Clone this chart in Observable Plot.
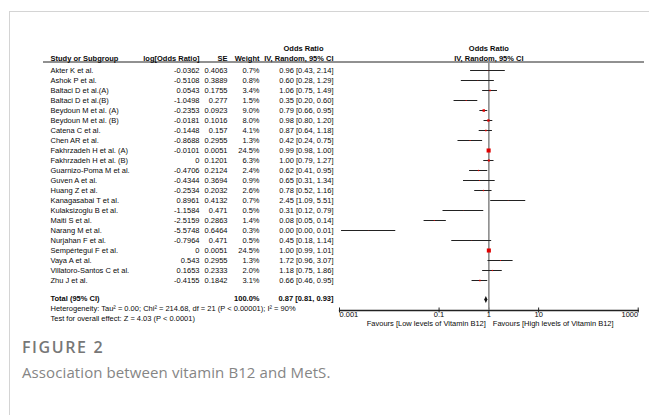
<!DOCTYPE html>
<html><head><meta charset="utf-8">
<script src="https://cdn.jsdelivr.net/npm/d3@7"></script>
<script src="https://cdn.jsdelivr.net/npm/@observablehq/plot@0.6"></script>
<style>
body{margin:0;background:#fff;}
#page{position:relative;width:649px;height:415px;overflow:hidden;background:#fff;}
#border{position:absolute;left:9px;top:11px;width:700px;height:500px;border-left:1px solid #d4d4d4;border-top:1px solid #d4d4d4;}
#chart{position:absolute;left:0;top:0;width:649px;height:332px;}
#chart svg{position:absolute;left:0;top:0;}
#fig{position:absolute;left:22px;top:337px;font-family:"Open Sans",sans-serif;font-weight:600;font-size:16px;line-height:20px;color:#777;letter-spacing:1.6px;}
#cap{position:absolute;left:22px;top:362px;font-family:"Open Sans",sans-serif;font-size:15px;line-height:20px;color:#858585;letter-spacing:0.1px;}
</style></head>
<body>
<div id="page">
  <div id="border"></div>
  <div id="chart"></div>
  <div id="fig">FIGURE 2</div>
  <div id="cap">Association between vitamin B12 and MetS.</div>
</div>
<script>
const studies = ["Akter K et al.","Ashok P et al.","Baltaci D et al.(A)","Baltaci D et al.(B)","Beydoun M et al. (A)","Beydoun M et al. (B)","Catena C et al.","Chen AR et al.","Fakhrzadeh H et al. (A)","Fakhrzadeh H et al. (B)","Guarnizo-Poma M et al.","Guven A et al.","Huang Z et al.","Kanagasabai T et al.","Kulaksizoglu B et al.","Maiti S et al.","Narang M et al.","Nurjahan F et al.","Sempértegui F et al.","Vaya A et al.","Villatoro-Santos C et al.","Zhu J et al."];
const logOR = [-0.0362,-0.5108,0.0543,-1.0498,-0.2353,-0.0181,-0.1448,-0.8688,-0.0101,0,-0.4706,-0.4344,-0.2534,0.8961,-1.1584,-2.5159,-5.5748,-0.7964,0,0.543,0.1653,-0.4155];
const seVals = [0.4063,0.3889,0.1755,0.277,0.0923,0.1016,0.157,0.2955,0.0051,0.1201,0.2124,0.3694,0.2032,0.4132,0.471,0.2863,0.6464,0.471,0.0051,0.2955,0.2333,0.1842];
const weight = [0.7,0.8,3.4,1.5,9.0,8.0,4.1,1.3,24.5,6.3,2.4,0.9,2.6,0.7,0.5,1.4,0.3,0.5,24.5,1.3,2.0,3.1];
const oddsRatio = [0.96,0.60,1.06,0.35,0.79,0.98,0.87,0.42,0.99,1.00,0.62,0.65,0.78,2.45,0.31,0.08,0.0038,0.45,1.00,1.72,1.18,0.66];
const ciLow = [0.43,0.28,0.75,0.20,0.66,0.80,0.64,0.24,0.98,0.79,0.41,0.31,0.52,1.09,0.12,0.05,0.0011,0.18,0.99,0.96,0.75,0.46];
const ciHigh = [2.14,1.29,1.49,0.60,0.95,1.20,1.18,0.75,1.00,1.27,0.95,1.34,1.16,5.51,0.79,0.14,0.0135,1.14,1.01,3.07,1.86,0.95];
const totalLabel = "Total (95% CI)";
const totalWeight = 100.0;
const totalOR = 0.87, totalLow = 0.81, totalHigh = 0.93;
const hetText = "Heterogeneity: Tau² = 0.00; Chi² = 214.68, df = 21 (P < 0.00001); I² = 90%";
const testText = "Test for overall effect: Z = 4.03 (P < 0.0001)";
const tickValues = [0.001, 0.1, 1, 10, 1000];
const tickLabels = ["0.001", "0.1", "1", "10", "1000"];
const favoursLeft = "Favours [Low levels of Vitamin B12]";
const favoursRight = "Favours [High levels of Vitamin B12]";
const headers = {study:"Study or Subgroup", logor:"log[Odds Ratio]", se:"SE", weight:"Weight", or1:"Odds Ratio", or2:"IV, Random, 95% CI"};

const rows = studies.map((s, i) => ({study: s, logor: logOR[i], se: seVals[i], w: weight[i], or: oddsRatio[i], lo: ciLow[i], hi: ciHigh[i]}));
const fmtCI = (o, l, h) => `${o.toFixed(2)} [${l.toFixed(2)}, ${h.toFixed(2)}]`;

const H = 332;
const domainY = ["h1", "h2", ...studies, "gap", totalLabel, "het", "test"];
const yOpt = {type: "point", domain: domainY, range: [49.1, 321.3], padding: 0, axis: null};
const font = {fontFamily: "'Liberation Sans', Arial, sans-serif", fontSize: "7.5px", background: "transparent", overflow: "visible", color: "#000"};
const fs = 7.5, ink = "#0a0a0a";

// table columns (left edge of frame = 43)
const L = 43;
const col = {study: 50 - L, logor: 199 - L, se: 227 - L, weight: 259 - L, ci: 333 - L, ciHead: 303 - L};

const table = Plot.plot({
  width: 649, height: H, marginTop: 61.5, marginLeft: L, marginRight: 6, marginBottom: 22,
  x: {axis: null}, y: yOpt, style: font,
  marks: [
    Plot.frame({anchor: "top", stroke: "#222", strokeWidth: 1}),
    // headers
    Plot.text([headers.study], {y: () => "h2", text: d => d, frameAnchor: "left", dx: col.study, textAnchor: "start", fontWeight: "bold", dy: -2, fontSize: fs, fill: ink}),
    Plot.text([headers.logor], {y: () => "h2", text: d => d, frameAnchor: "left", dx: col.logor, textAnchor: "end", fontWeight: "bold", dy: -2, fontSize: fs, fill: ink}),
    Plot.text([headers.se], {y: () => "h2", text: d => d, frameAnchor: "left", dx: col.se, textAnchor: "end", fontWeight: "bold", dy: -2, fontSize: fs, fill: ink}),
    Plot.text([headers.weight], {y: () => "h2", text: d => d, frameAnchor: "left", dx: col.weight, textAnchor: "end", fontWeight: "bold", dy: -2, fontSize: fs, fill: ink}),
    Plot.text([headers.or1], {y: () => "h1", text: d => d, frameAnchor: "left", dx: col.ciHead, textAnchor: "middle", fontWeight: "bold", dy: -2, fontSize: fs, fill: ink}),
    Plot.text([headers.or2], {y: () => "h2", text: d => d, frameAnchor: "left", dx: col.ci, textAnchor: "end", fontWeight: "bold", dy: -2, fontSize: fs, fill: ink}),
    // rows
    Plot.text(rows, {y: "study", text: "study", frameAnchor: "left", dx: col.study, textAnchor: "start", fontSize: fs, fill: ink}),
    Plot.text(rows, {y: "study", text: d => String(d.logor), frameAnchor: "left", dx: col.logor, textAnchor: "end", fontSize: fs, fill: ink}),
    Plot.text(rows, {y: "study", text: d => String(d.se), frameAnchor: "left", dx: col.se, textAnchor: "end", fontSize: fs, fill: ink}),
    Plot.text(rows, {y: "study", text: d => d.w.toFixed(1) + "%", frameAnchor: "left", dx: col.weight, textAnchor: "end", fontSize: fs, fill: ink}),
    Plot.text(rows, {y: "study", text: d => fmtCI(d.or, d.lo, d.hi), frameAnchor: "left", dx: col.ci, textAnchor: "end", fontSize: fs, fill: ink}),
    // total
    Plot.text([totalLabel], {y: d => d, text: d => d, frameAnchor: "left", dx: col.study, textAnchor: "start", fontWeight: "bold", dy: -2, fontSize: fs, fill: ink}),
    Plot.text([totalWeight], {y: () => totalLabel, text: d => d.toFixed(1) + "%", frameAnchor: "left", dx: col.weight, textAnchor: "end", fontWeight: "bold", dy: -2, fontSize: fs, fill: ink}),
    Plot.text([fmtCI(totalOR, totalLow, totalHigh)], {y: () => totalLabel, text: d => d, frameAnchor: "left", dx: col.ci, textAnchor: "end", fontWeight: "bold", dy: -2, fontSize: fs, fill: ink}),
    Plot.text([hetText], {y: () => "het", text: d => d, frameAnchor: "left", dx: col.study, textAnchor: "start", dy: -1.5, fontSize: fs, fill: ink}),
    Plot.text([testText], {y: () => "test", text: d => d, frameAnchor: "left", dx: col.study, textAnchor: "start", dy: -2, fontSize: fs, fill: ink})
  ]
});

const diamond = {draw(ctx) { ctx.moveTo(0, -3.6); ctx.lineTo(1.6, 0); ctx.lineTo(0, 3.6); ctx.lineTo(-1.6, 0); ctx.closePath(); }};

const forest = Plot.plot({
  width: 649, height: H, marginTop: 61.5, marginLeft: 339, marginRight: 11.3, marginBottom: 22,
  x: {type: "log", domain: [0.001, 1000], label: null},
  y: yOpt,
  r: {type: "sqrt", domain: [0, 24.5], range: [0, 2.3]},
  style: font,
  marks: [
    Plot.frame({anchor: "bottom", stroke: "#222", strokeWidth: 1.3}),
    Plot.axisX({ticks: tickValues, tickSize: 5, dy: -2.5, tickFormat: () => "", label: null, stroke: "#222"}),
    Plot.ruleX([1], {stroke: "#8c8c8c", strokeWidth: 1.6}),
    Plot.text([headers.or1], {x: () => 1, y: () => "h1", text: d => d, fontWeight: "bold", dy: -2, fontSize: fs, fill: ink}),
    Plot.text([headers.or2], {x: () => 1, y: () => "h2", text: d => d, fontWeight: "bold", dy: -2, fontSize: fs, fill: ink}),
    Plot.ruleY(rows, {y: "study", x1: "lo", x2: "hi", stroke: "#222", strokeWidth: 1}),
    Plot.dot(rows, {x: "or", y: "study", r: "w", symbol: "square", fill: "#e00000", stroke: null}),
    Plot.dot([totalOR], {x: d => d, y: () => totalLabel, symbol: diamond, r: 3.5, fill: "#111", stroke: null, dy: -1}),
    Plot.text(tickValues.slice(0, 1), {x: d => d, text: d => tickLabels[tickValues.indexOf(d)], frameAnchor: "bottom", dy: 6.5, textAnchor: "start", fontSize: fs, fill: ink}),
    Plot.text(tickValues.slice(1, -1), {x: d => d, text: d => tickLabels[tickValues.indexOf(d)], frameAnchor: "bottom", dy: 6.5, textAnchor: "middle", fontSize: fs, fill: ink}),
    Plot.text(tickValues.slice(-1), {x: d => d, text: d => tickLabels[tickValues.indexOf(d)], frameAnchor: "bottom", dy: 6.5, textAnchor: "end", fontSize: fs, fill: ink}),
    Plot.text([favoursLeft], {x: () => 1, text: d => d, frameAnchor: "bottom", dy: 15.5, dx: -3, textAnchor: "end", fontSize: fs, fill: ink}),
    Plot.text([favoursRight], {x: () => 1, text: d => d, frameAnchor: "bottom", dy: 15.5, dx: 4, textAnchor: "start", fontSize: fs, fill: ink})
  ]
});

const chart = document.getElementById("chart");
chart.appendChild(table);
chart.appendChild(forest);
</script>
</body></html>
